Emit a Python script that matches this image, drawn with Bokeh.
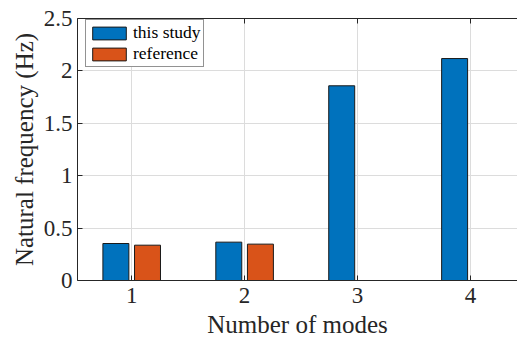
from bokeh.plotting import figure
from bokeh.models import Range1d, FixedTicker, LinearAxis, Legend, LegendItem, CustomJSTickFormatter
from bokeh.transform import dodge
from bokeh.embed import file_html
from bokeh.resources import INLINE

modes = [1, 2, 3, 4]
this_study = [0.353, 0.366, 1.858, 2.118]
reference = [0.337, 0.347, 0.0, 0.0]
y_ticks = [0, 0.5, 1, 1.5, 2, 2.5]
y_tick_labels = ["0", "0.5", "1", "1.5", "2", "2.5"]
x_tick_labels = ["1", "2", "3", "4"]

FONT = "Liberation Serif"
AX = "#262626"

p = figure(width=517, height=343, output_backend="svg", toolbar_location=None,
           x_range=Range1d(0.52, 4.417), y_range=Range1d(0, 2.5),
           min_border_left=77, min_border_right=0, min_border_top=18, min_border_bottom=63,
           x_axis_location=None, y_axis_location=None)
p.outline_line_color = None
p.background_fill_color = "white"
p.border_fill_color = "white"

src = dict(x=modes, a=this_study, b=reference)
r1 = p.vbar(x=dodge("x", -0.14, range=p.x_range), top="a", width=0.23, source=src,
            fill_color="#0072BD", line_color="#1a1a1a", line_width=1)
r2 = p.vbar(x=dodge("x", 0.14, range=p.x_range), top="b", width=0.23, source=src,
            fill_color="#D95319", line_color="#1a1a1a", line_width=1)

yax = LinearAxis(ticker=FixedTicker(ticks=y_ticks),
                 major_label_overrides={t: l for t, l in zip(y_ticks, y_tick_labels)},
                 axis_label="Natural frequency (Hz)")
xax = LinearAxis(ticker=FixedTicker(ticks=modes),
                 major_label_overrides={m: l for m, l in zip(modes, x_tick_labels)},
                 axis_label="Number of modes")
tax = LinearAxis(ticker=FixedTicker(ticks=modes),
                 formatter=CustomJSTickFormatter(code="return ''"))
for ax in (yax, xax, tax):
    ax.axis_line_color = AX
    ax.axis_line_width = 1
    ax.major_tick_line_color = AX
    ax.major_tick_in = 5
    ax.major_tick_out = 0
    ax.minor_tick_line_color = None
    ax.major_label_text_font = FONT
    ax.major_label_text_color = AX
    ax.major_label_text_font_size = "23px"
    ax.major_label_text_font_style = "normal"
    ax.axis_label_text_font = FONT
    ax.axis_label_text_color = AX
    ax.axis_label_text_font_size = "25px"
    ax.axis_label_text_font_style = "normal"
tax.major_label_standoff = 0
yax.major_label_standoff = 5
xax.major_label_standoff = 7
yax.axis_label_standoff = 3
xax.axis_label_standoff = 5
p.add_layout(yax, "left")
p.add_layout(xax, "below")
p.add_layout(tax, "above")

p.xgrid.ticker = FixedTicker(ticks=modes)
p.ygrid.ticker = FixedTicker(ticks=y_ticks)
p.grid.grid_line_color = "#dcdcdc"
p.grid.grid_line_width = 1

legend = Legend(items=[LegendItem(label="this study", renderers=[r1]),
                       LegendItem(label="reference", renderers=[r2])],
                location=(8, 213))
legend.label_text_font = FONT
legend.label_text_font_style = "normal"
legend.label_text_font_size = "17.5px"
legend.label_text_color = "black"
legend.glyph_width = 42
legend.glyph_height = 16
legend.label_height = 18
legend.spacing = 0
legend.padding = 2
legend.margin = 0
legend.label_standoff = 3
legend.border_line_color = AX
legend.border_line_width = 1
legend.background_fill_alpha = 1
p.add_layout(legend, "center")

open("out.html", "w").write(file_html(p, INLINE))
